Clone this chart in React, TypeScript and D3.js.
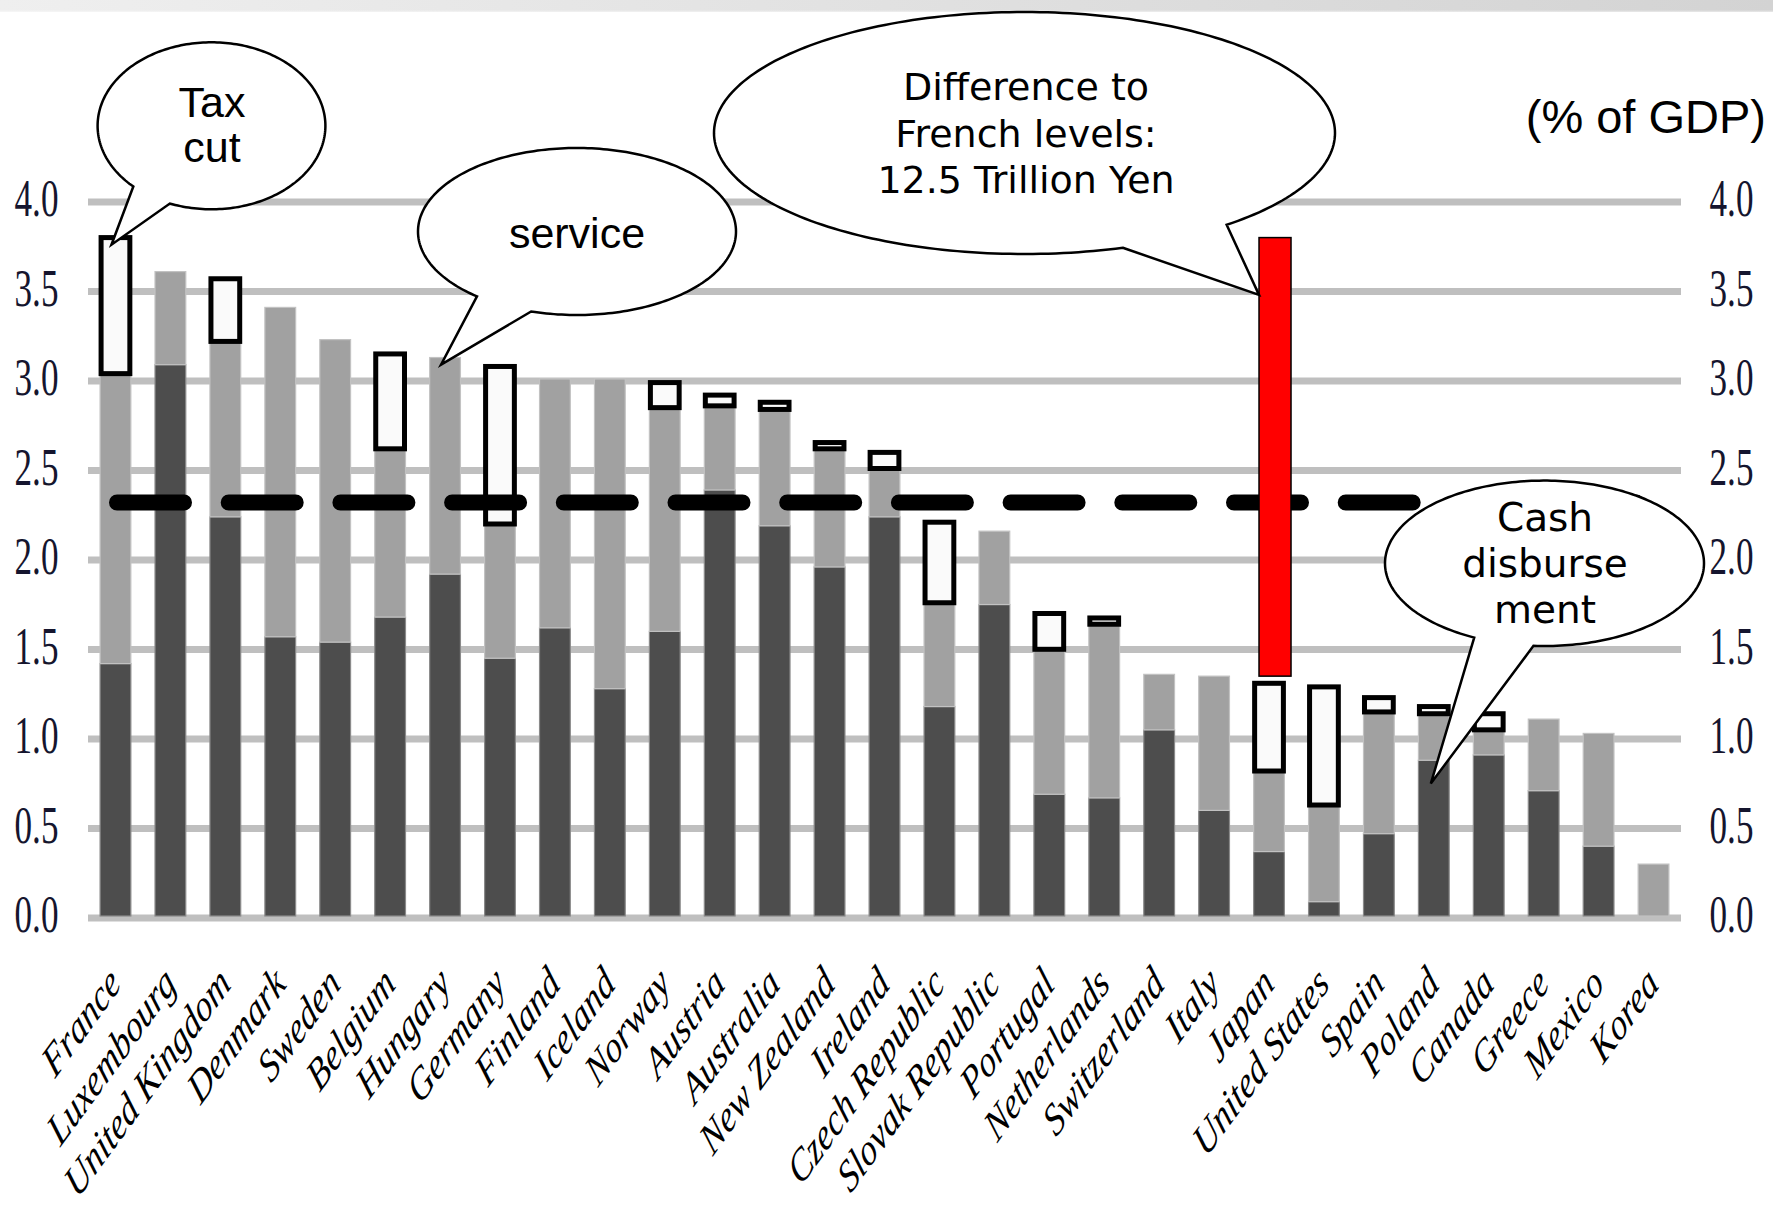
import React from 'react';
import * as d3 from 'd3';

// ---------- data (share of GDP, %) ----------
const countries = [
  'France', 'Luxembourg', 'United Kingdom', 'Denmark', 'Sweden', 'Belgium', 'Hungary',
  'Germany', 'Finland', 'Iceland', 'Norway', 'Austria', 'Australia', 'New Zealand',
  'Ireland', 'Czech Republic', 'Slovak Republic', 'Portugal', 'Netherlands',
  'Switzerland', 'Italy', 'Japan', 'United States', 'Spain', 'Poland', 'Canada',
  'Greece', 'Mexico', 'Korea',
];
// dark segment
const cashDisbursement = [
  1.41, 3.08, 2.23, 1.56, 1.53, 1.67, 1.91, 1.44, 1.61, 1.27, 1.59, 2.38, 2.18, 1.95,
  2.23, 1.17, 1.74, 0.68, 0.66, 1.04, 0.59, 0.36, 0.08, 0.46, 0.87, 0.90, 0.70, 0.39, 0.0,
];
// light grey segment
const services = [
  1.62, 0.52, 0.98, 1.84, 1.69, 0.94, 1.21, 0.75, 1.39, 1.73, 1.25, 0.47, 0.65, 0.66,
  0.27, 0.58, 0.41, 0.81, 0.97, 0.31, 0.75, 0.45, 0.54, 0.68, 0.26, 0.14, 0.40, 0.63, 0.29,
];
// hollow box segment
const taxCuts = [
  0.76, 0.0, 0.35, 0.0, 0.0, 0.53, 0.0, 0.88, 0.0, 0.0, 0.14, 0.06, 0.04, 0.035,
  0.09, 0.45, 0.0, 0.20, 0.035, 0.0, 0.0, 0.49, 0.66, 0.08, 0.04, 0.09, 0.0, 0.0, 0.0,
];
const yTicks = [0, 0.5, 1.0, 1.5, 2.0, 2.5, 3.0, 3.5, 4.0];
const oecdAverage = 2.31;
const japanGapFrom = 1.34;
const japanGapTo = 3.79;

const W = 1773;
const H = 1212;

function bubblePath(
  cx: number, cy: number, rx: number, ry: number,
  a: [number, number], tip: [number, number], b: [number, number],
) {
  const ang = (p: [number, number]) => Math.atan2((p[1] - cy) / ry, (p[0] - cx) / rx);
  const ta = ang(a);
  const tb = ang(b);
  let d = tb - ta;
  while (d > Math.PI) d -= 2 * Math.PI;
  while (d <= -Math.PI) d += 2 * Math.PI;
  const s = Math.sign(d);
  const span = 2 * Math.PI - Math.abs(d);
  const pts: [number, number][] = [];
  pts.push([cx + rx * Math.cos(ta), cy + ry * Math.sin(ta)]);
  pts.push(tip);
  const N = 240;
  for (let k = 0; k <= N; k++) {
    const t = tb + (s * span * k) / N;
    pts.push([cx + rx * Math.cos(t), cy + ry * Math.sin(t)]);
  }
  return (d3.line()(pts) || '') + 'Z';
}

export default function App() {
  const x = d3.scaleBand<string>()
    .domain(countries)
    .range([88, 1681])
    .paddingInner(0.44)
    .paddingOuter(0.22);
  const y = d3.scaleLinear().domain([0, 4]).range([916, 200]);
  const bw = x.bandwidth();
  const cx = (c: string) => (x(c) as number) + bw / 2;

  const rows = countries.map((c, i) => ({
    country: c,
    cash: cashDisbursement[i],
    service: services[i],
    tax: taxCuts[i],
  }));
  const series = d3.stack<any>().keys(['cash', 'service', 'tax'])(rows);

  const sansJ = '"DejaVu Sans", sans-serif';
  const sans = '"Liberation Sans", Arial, sans-serif';
  const serif = '"Liberation Serif", "Times New Roman", serif';

  const japanX = cx('Japan');

  return (
    <div style={{ position: 'absolute', left: 0, top: 0, background: '#fff' }}>
      <svg width={W} height={H} viewBox={`0 0 ${W} ${H}`} style={{ display: 'block' }}>
        <defs>
          <linearGradient id="topband" x1="0" x2="1" y1="0" y2="0">
            <stop offset="0" stopColor="#efefef" />
            <stop offset="1" stopColor="#d3d3d3" />
          </linearGradient>
          <linearGradient id="topfade" x1="0" x2="0" y1="0" y2="1">
            <stop offset="0" stopColor="#fff" stopOpacity="0" />
            <stop offset="1" stopColor="#fff" stopOpacity="1" />
          </linearGradient>
        </defs>
        <rect x={0} y={0} width={W} height={H} fill="#fff" />
        <rect x={0} y={0} width={W} height={12} fill="url(#topband)" />
        <rect x={0} y={10} width={W} height={4} fill="url(#topfade)" />

        {/* gridlines */}
        {yTicks.map((t) => (
          <rect key={'g' + t} x={88} y={y(t) - 1.5} width={1681 - 88} height={7} fill="#bfbfbf" />
        ))}

        {/* tick labels left & right */}
        {yTicks.map((t) => (
          <g key={'tl' + t}>
            <text
              transform={`translate(36.5, ${y(t) + 16}) scale(0.95, 1.4)`}
              textAnchor="middle"
              fontFamily={serif}
              fontSize={37}
              fill="#15152e"
            >
              {t.toFixed(1)}
            </text>
            <text
              transform={`translate(1731.5, ${y(t) + 16}) scale(0.95, 1.4)`}
              textAnchor="middle"
              fontFamily={serif}
              fontSize={37}
              fill="#15152e"
            >
              {t.toFixed(1)}
            </text>
          </g>
        ))}

        {/* stacked bars: dark and grey */}
        {series.slice(0, 2).map((s, si) => (
          <g key={'s' + si}>
            {s.map((d, i) => {
              const h = y(d[0]) - y(d[1]);
              if (h <= 0) return null;
              return (
                <rect
                  key={i}
                  x={(x(countries[i]) as number)}
                  y={y(d[1])}
                  width={bw}
                  height={h}
                  fill={si === 0 ? '#4d4d4d' : '#a1a1a1'}
                  stroke={si === 0 ? '#8a8a8a' : '#c2c2c2'}
                  strokeWidth={1.2}
                />
              );
            })}
          </g>
        ))}

        {/* hollow boxes */}
        {series[2].map((d, i) => {
          const h = y(d[0]) - y(d[1]);
          if (d[1] - d[0] <= 0) return null;
          return (
            <rect
              key={'b' + i}
              x={(x(countries[i]) as number) + 1}
              y={y(d[1])}
              width={bw - 2}
              height={h}
              fill="#fafafa"
              stroke="#000"
              strokeWidth={5}
            />
          );
        })}

        {/* OECD average dashed line */}
        <line
          x1={117}
          x2={1640}
          y1={y(oecdAverage)}
          y2={y(oecdAverage)}
          stroke="#000"
          strokeWidth={16}
          strokeLinecap="round"
          strokeDasharray="67 44.7"
        />

        {/* Japan gap bar */}
        <rect
          x={japanX - 10}
          y={y(japanGapTo)}
          width={32}
          height={y(japanGapFrom) - y(japanGapTo)}
          fill="#ff0000"
          stroke="#000"
          strokeWidth={1.5}
        />

        {/* x labels */}
        {countries.map((c) => (
          <text
            key={'xl' + c}
            transform={`translate(${cx(c) + 7}, 986) scale(1, 1.38) rotate(-45)`}
            textAnchor="end"
            fontFamily={serif}
            fontStyle="italic"
            fontSize={33}
            fill="#000"
          >
            {c}
          </text>
        ))}

        {/* callouts */}
        <path
          d={bubblePath(211.5, 125.8, 113.9, 83.5, [134, 186], [cx('France') - 4, y(3.75)], [170.3, 202.7])}
          fill="#fff"
          stroke="#000"
          strokeWidth={2.5}
        />
        <text x={212} y={117} textAnchor="middle" fontFamily={sans} fontSize={43}>Tax</text>
        <text x={212} y={162} textAnchor="middle" fontFamily={sans} fontSize={43}>cut</text>

        <path
          d={bubblePath(577, 231.5, 159, 83.5, [477.6, 296], [cx('Hungary') - 4, y(3.08)], [531, 311.7])}
          fill="#fff"
          stroke="#000"
          strokeWidth={2.5}
        />
        <text x={577} y={248} textAnchor="middle" fontFamily={sans} fontSize={43}>service</text>

        <path
          d={bubblePath(1024.5, 133, 310.5, 121, [1123, 248], [japanX - 10, y(3.47)], [1227, 225])}
          fill="#fff"
          stroke="#000"
          strokeWidth={2.5}
        />
        <text x={1026} y={100} textAnchor="middle" fontFamily={sansJ} fontSize={38}>Difference to</text>
        <text x={1026} y={147} textAnchor="middle" fontFamily={sansJ} fontSize={38}>French levels:</text>
        <text x={1026} y={193} textAnchor="middle" fontFamily={sansJ} fontSize={38}>12.5 Trillion Yen</text>

        <path
          d={bubblePath(1544.5, 563.3, 159.5, 82.7, [1475, 636.7], [cx('Poland') - 3, y(0.74)], [1533.6, 645])}
          fill="#fff"
          stroke="#000"
          strokeWidth={2.5}
        />
        <text x={1545} y={531} textAnchor="middle" fontFamily={sansJ} fontSize={39}>Cash</text>
        <text x={1545} y={577} textAnchor="middle" fontFamily={sansJ} fontSize={39}>disburse</text>
        <text x={1545} y={623} textAnchor="middle" fontFamily={sansJ} fontSize={39}>ment</text>

        <text x={1766} y={133} textAnchor="end" fontFamily={sans} fontSize={47}>(% of GDP)</text>
      </svg>
    </div>
  );
}
